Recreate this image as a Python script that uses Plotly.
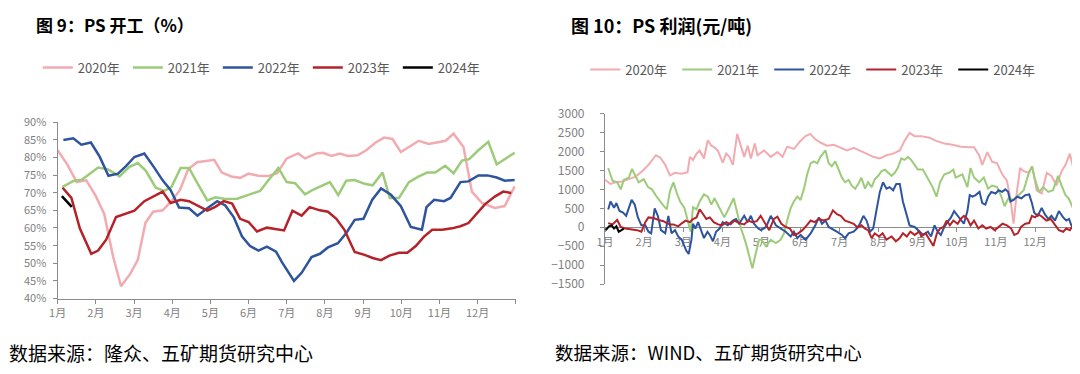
import plotly.graph_objects as go

# ---------------- data ----------------
months = ["1月", "2月", "3月", "4月", "5月", "6月", "7月", "8月", "9月", "10月", "11月", "12月", ""]
month_pos = list(range(13))
years = ["2020年", "2021年", "2022年", "2023年", "2024年"]
colors = ["#F2ABB0", "#9CCB7A", "#2E549E", "#B5232A", "#000000"]

# PS operating rate (%), x in months since Jan 1
rate_x_2020 = [0.00,0.25,0.50,0.75,1.00,1.22,1.45,1.66,1.90,2.10,2.30,2.50,2.75,2.98,3.20,3.42,3.65,3.88,4.10,4.30,
               4.55,4.78,5.00,5.25,5.50,5.75,6.00,6.30,6.48,6.78,6.95,7.17,7.39,7.60,7.86,8.08,8.34,8.55,8.77,8.99,
               9.25,9.46,9.72,9.98,10.16,10.37,10.63,10.85,11.11,11.45,11.71,11.97]
rate_y_2020 = [82,78,73,73.5,69,64,52,43.5,47,51,61.5,64.6,65,67.6,70.7,76.6,78.6,79,79.3,75.7,
               74.6,74.2,75.4,74.8,74.7,75.5,79.7,81.1,79.7,81.1,81.3,80.4,81.1,80.4,80.6,82,84.3,85.6,85.2,81.5,
               83.3,84.7,83.8,84.3,84.7,86.7,82.9,70.3,67.1,65.7,66.2,71.8]
rate_x_2021 = [0.12,0.41,0.64,1.06,1.32,1.62,1.88,2.10,2.31,2.57,2.79,2.98,3.22,3.44,3.67,3.92,4.13,4.39,4.70,5.00,
               5.30,5.52,5.78,6.00,6.22,6.48,6.70,7.13,7.35,7.56,7.78,8.04,8.25,8.51,8.70,8.94,9.20,9.46,9.68,9.89,
               10.15,10.37,10.59,10.78,11.02,11.28,11.50,11.97]
rate_y_2021 = [71.6,73.3,73.7,77.1,76.6,74.6,77.3,78.4,76.2,71.4,70.5,71.6,77.0,77.0,72.5,67.8,68.7,68.2,68.3,69.4,
               70.5,73.5,77.0,73.0,72.7,69.5,70.9,73.0,69.3,73.4,73.6,72.5,72.1,75.7,68.5,68.5,73.0,74.6,75.7,75.7,
               77.6,75.5,79.1,79.5,82.0,84.4,78.0,81.3]
rate_x_2022 = [0.15,0.41,0.62,0.87,1.10,1.33,1.58,1.79,2.01,2.27,2.53,2.75,2.96,3.18,3.44,3.66,3.92,4.18,4.39,4.61,
               4.83,5.04,5.26,5.48,5.72,5.87,6.19,6.39,6.65,6.87,7.08,7.34,7.56,7.78,8.01,8.24,8.47,8.73,8.99,9.25,
               9.54,9.66,9.86,10.12,10.29,10.55,10.76,11.02,11.26,11.50,11.71,11.97]
rate_y_2022 = [84.9,85.4,83.6,84.2,80.2,74.8,75.4,77.5,80.1,81.1,77.1,73.5,70.7,65.8,65.6,63.5,65.6,67.6,66.4,63.1,
               57.6,54.9,53.6,54.7,53.3,50.4,45.0,47.3,51.8,52.7,54.5,55.7,58.6,62.3,62.6,68.0,71.2,69.4,66.2,60.3,
               59.5,65.9,68.0,67.6,68.5,73.0,73.2,74.9,74.9,74.3,73.4,73.6]
rate_x_2023 = [0.13,0.36,0.58,0.88,1.06,1.27,1.53,1.75,2.01,2.27,2.53,2.75,2.96,3.22,3.44,3.70,3.92,4.13,4.35,4.57,
               4.78,5.00,5.22,5.48,5.72,5.93,6.15,6.39,6.60,6.87,7.08,7.30,7.51,7.78,8.04,8.25,8.47,8.69,8.94,9.16,
               9.38,9.59,9.81,10.07,10.33,10.55,10.76,10.98,11.19,11.45,11.67,11.88]
rate_y_2023 = [71.4,68.5,59.9,52.7,53.6,56.7,63.1,64.0,64.9,67.6,69.1,70.3,67.1,68.0,67.6,66.2,64.9,66.0,67.6,66.9,
               62.6,61.7,59.0,60.1,59.6,59.3,64.9,63.5,65.9,65.0,64.6,62.6,59.5,53.2,52.4,51.5,50.9,52.2,53.0,53.0,
               54.9,57.5,59.5,59.5,59.9,60.5,61.4,64.0,66.7,68.9,70.3,69.9]
rate_x_2024 = [0.11,0.24,0.37]
rate_y_2024 = [69.0,67.5,66.0]

# PS profit (yuan/ton)
profit_x_2020 = [0,0.14,0.27,0.44,0.61,0.78,0.95,1.11,1.30,1.41,1.54,1.66,1.79,1.96,2.11,2.17,2.25,2.34,2.42,2.53,
                 2.63,2.72,2.80,2.89,3.01,3.10,3.18,3.27,3.38,3.48,3.56,3.65,3.73,3.83,3.90,4.07,4.24,4.41,4.54,4.66,
                 4.83,5.00,5.13,5.25,5.38,5.51,5.68,5.85,6.02,6.19,6.36,6.52,6.69,6.86,7.03,7.20,7.37,7.54,7.66,7.79,
                 7.92,8.09,8.30,8.47,8.68,8.89,9.10,9.31,9.44,9.57,9.65,9.78,9.90,10.03,10.16,10.28,10.37,10.45,10.54,10.62,
                 10.71,10.83,10.93,11.04,11.17,11.30,11.42,11.55,11.68,11.78,11.89,11.97]
profit_y_2020 = [1255,1145,1187,1212,1271,1339,1482,1650,1903,1844,1650,1372,1440,1415,1457,1861,1777,1945,2029,1819,
                 2299,2156,2113,2012,1709,1945,1861,1650,2467,2113,1861,2156,1819,2214,1903,2029,1861,1987,1861,2130,
                 2071,2282,2408,2467,2324,2240,2156,2181,2113,2029,2097,2029,1945,1861,1819,1903,1945,2029,2282,2492,
                 2408,2408,2366,2282,2214,2181,2130,2113,2113,1903,1650,1987,1735,1692,1398,1229,766,93,977,1566,
                 1482,1440,1608,977,893,1440,1356,1103,1482,1650,1945,1608]
profit_x_2021 = [0.08,0.19,0.31,0.40,0.48,0.61,0.69,0.78,0.86,0.99,1.10,1.20,1.32,1.49,1.58,1.66,1.75,1.83,1.92,2.03,
                 2.13,2.19,2.25,2.34,2.42,2.53,2.63,2.72,2.80,2.93,3.05,3.18,3.29,3.39,3.48,3.60,3.69,3.77,3.86,3.94,
                 4.00,4.12,4.24,4.37,4.49,4.58,4.66,4.75,4.83,4.92,5.00,5.09,5.17,5.26,5.34,5.43,5.51,5.64,5.72,5.80,
                 5.89,5.97,6.06,6.14,6.23,6.31,6.40,6.48,6.56,6.65,6.73,6.82,6.90,6.99,7.07,7.16,7.24,7.33,7.41,7.49,
                 7.58,7.66,7.75,7.83,7.92,8.00,8.13,8.26,8.38,8.48,8.57,8.68,8.80,8.91,8.97,9.14,9.27,9.35,9.44,9.57,
                 9.69,9.80,9.90,10.03,10.14,10.22,10.32,10.45,10.58,10.71,10.83,10.92,11.00,11.10,11.21,11.34,11.46,11.59,11.68,11.78,
                 11.86,11.97]
profit_y_2021 = [1566,1229,1187,1002,1255,1314,1541,1356,1187,1271,1061,1002,808,581,472,951,1187,918,682,514,
                 135,-118,530,472,682,867,808,598,766,514,261,530,766,345,-34,-413,-749,-1086,-665,-328,
                 -330,-500,-330,-415,-330,-160,180,510,680,810,720,1020,1400,1690,1740,1690,1860,2030,1690,1610,
                 1740,1520,1310,1190,1250,1100,1020,1150,1310,1020,1190,1060,1270,1360,1480,1520,1440,1360,1440,1570,
                 1820,1780,1860,1780,1650,1524,1524,1271,1061,808,1187,1398,1440,1524,1314,1398,1061,1566,1314,1187,
                 1314,1019,1103,1061,808,556,766,724,850,977,1398,1608,1271,935,1061,935,977,1356,1103,850,
                 766,514]
profit_x_2022 = [0.08,0.14,0.23,0.29,0.37,0.46,0.54,0.61,0.68,0.76,0.84,0.93,1.03,1.11,1.18,1.27,1.35,1.43,1.54,1.62,
                 1.70,1.79,1.87,1.96,2.03,2.08,2.14,2.21,2.25,2.31,2.38,2.46,2.53,2.62,2.68,2.76,2.84,2.93,3.01,3.14,
                 3.27,3.35,3.43,3.56,3.65,3.73,3.81,3.92,3.99,4.12,4.24,4.37,4.49,4.62,4.75,4.83,4.92,5.00,5.13,5.26,
                 5.38,5.47,5.55,5.64,5.72,5.80,5.93,6.06,6.14,6.23,6.36,6.44,6.52,6.61,6.69,6.78,6.86,6.94,7.03,7.11,
                 7.20,7.28,7.37,7.45,7.54,7.62,7.71,7.79,7.92,8.04,8.14,8.26,8.34,8.43,8.51,8.59,8.68,8.76,8.85,8.93,
                 9.02,9.10,9.18,9.27,9.33,9.40,9.48,9.58,9.65,9.73,9.80,9.88,9.99,10.07,10.16,10.24,10.31,10.37,10.45,10.54,
                 10.65,10.75,10.85,10.92,10.98,11.07,11.17,11.25,11.34,11.42,11.51,11.61,11.72,11.80,11.87,11.93,11.97]
profit_y_2022 = [471,682,514,640,429,387,303,530,724,598,261,51,51,-118,-160,497,303,-76,-160,303,
                 -160,-76,-244,-328,-497,-623,-707,-328,93,-34,135,-76,-286,-118,-202,-370,-118,-34,135,51,
                 177,219,93,303,135,303,93,-34,-76,8,303,51,-34,-118,-244,-118,-286,-202,-328,-160,
                 51,261,93,177,8,-34,-118,-202,-286,-160,-118,-34,93,303,177,-118,-34,429,935,1187,
                 1019,1061,977,1145,1145,682,345,51,8,-118,-202,-118,-244,51,-118,-202,8,135,261,429,
                 303,177,93,429,850,808,850,935,640,598,808,935,893,977,935,1002,935,682,724,808,
                 766,850,867,640,387,303,514,345,219,303,177,429,261,177,219,51,8]
profit_x_2023 = [0.08,0.19,0.31,0.40,0.52,0.69,0.82,0.93,1.03,1.11,1.24,1.37,1.49,1.58,1.66,1.75,1.87,1.97,2.06,2.17,
                 2.25,2.34,2.42,2.51,2.59,2.68,2.78,2.89,2.99,3.10,3.21,3.31,3.43,3.56,3.66,3.77,3.88,3.98,4.09,4.20,
                 4.32,4.41,4.51,4.62,4.73,4.83,4.94,5.05,5.16,5.26,5.36,5.47,5.59,5.72,5.83,5.93,6.03,6.14,6.25,6.36,
                 6.46,6.56,6.65,6.73,6.82,6.90,7.01,7.10,7.20,7.33,7.44,7.54,7.62,7.72,7.81,7.92,8.04,8.09,8.20,8.30,
                 8.40,8.49,8.57,8.66,8.74,8.82,8.91,9.02,9.10,9.18,9.27,9.35,9.44,9.55,9.65,9.75,9.86,9.97,10.07,10.17,
                 10.28,10.39,10.47,10.56,10.64,10.75,10.85,10.92,11.00,11.08,11.18,11.29,11.40,11.51,11.61,11.72,11.80,11.89,11.97]
profit_y_2023 = [110,76,194,8,-34,-59,-76,-118,135,261,244,194,160,110,76,76,25,110,177,135,
                 219,261,472,345,219,261,135,76,51,135,76,177,110,76,177,135,160,303,110,-76,
                 219,278,93,8,-34,-202,-160,-76,51,177,135,219,177,219,446,345,303,177,135,93,
                 -8,51,-34,-76,-286,-160,-244,-160,-328,-244,-370,-286,-160,-244,-118,-202,-118,-244,-160,-328,
                 -497,-160,-34,8,177,51,177,93,219,303,219,51,177,-34,51,-34,8,-76,8,93,
                 51,-34,-202,-160,8,93,110,303,261,345,278,177,219,51,-76,-118,-34,-76,51]
profit_x_2024 = [0.02,0.10,0.17,0.23,0.29,0.35,0.42,0.48]
profit_y_2024 = [-76,25,51,-34,25,-118,-76,-34]

rate_x = [rate_x_2020, rate_x_2021, rate_x_2022, rate_x_2023, rate_x_2024]
rate_y = [rate_y_2020, rate_y_2021, rate_y_2022, rate_y_2023, rate_y_2024]
profit_x = [profit_x_2020, profit_x_2021, profit_x_2022, profit_x_2023, profit_x_2024]
profit_y = [profit_y_2020, profit_y_2021, profit_y_2022, profit_y_2023, profit_y_2024]

# ---------------- figure ----------------
W, H = 1080, 374
OFF = 8  # page body margin: figure is drawn 8px in from the top-left corner of the window


def px(x):
    return (x - OFF) / W


def py(y):
    return 1 - (y - OFF) / H


FONT = "Noto Sans CJK SC, Noto Sans, sans-serif"
AX = "#8C8C8C"
TXT = "#7F7F7F"

fig = go.Figure()
for i in range(5):
    fig.add_trace(go.Scatter(x=rate_x[i], y=rate_y[i], mode="lines", name=years[i],
                             line=dict(color=colors[i], width=2.5),
                             xaxis="x", yaxis="y", legend="legend"))
for i in range(5):
    fig.add_trace(go.Scatter(x=profit_x[i], y=profit_y[i], mode="lines", name=years[i],
                             line=dict(color=colors[i], width=2),
                             xaxis="x2", yaxis="y2", legend="legend2"))

left_ydom = [py(302), py(117)]
right_ydom = [py(286.7), py(108.3)]
zero_pos = right_ydom[0] + (right_ydom[1] - right_ydom[0]) * 1500 / 4500

common_axis = dict(showgrid=False, zeroline=False, showline=True, linecolor=AX, linewidth=1.3,
                   ticks="outside", ticklen=4, tickcolor=AX, tickwidth=1)

fig.update_layout(
    width=W, height=H, autosize=False,
    margin=dict(l=0, r=0, t=0, b=0),
    paper_bgcolor="white", plot_bgcolor="white",
    font=dict(family=FONT, color=TXT),
    xaxis=dict(domain=[px(49), px(511)], range=[0, 12], tickmode="array",
               tickvals=month_pos, ticktext=months, anchor="y",
               tickfont=dict(family=FONT, size=11, color=TXT), **common_axis),
    yaxis=dict(domain=left_ydom, range=[40, 90], dtick=5, tick0=40, ticksuffix="%",
               anchor="x", ticklabelstandoff=4,
               tickfont=dict(family=FONT, size=11, color=TXT), **common_axis),
    xaxis2=dict(domain=[px(601), px(1074)], range=[0, 12], tickmode="array",
                tickvals=month_pos, ticktext=months, anchor="free", position=zero_pos,
                layer="below traces",
                tickfont=dict(family=FONT, size=11, color=TXT), **common_axis),
    yaxis2=dict(domain=right_ydom, range=[-1500, 3000], dtick=500, tick0=-1500,
                anchor="x2", ticklabelstandoff=13,
                tickfont=dict(family=FONT, size=12, color=TXT), **common_axis),
    legend=dict(orientation="h", x=px(29), y=py(60), xanchor="left", yanchor="middle",
                entrywidth=45, entrywidthmode="pixels", itemwidth=30,
                font=dict(family=FONT, size=13, color="#595959"), bgcolor="rgba(0,0,0,0)"),
    legend2=dict(orientation="h", x=px(581), y=py(62), xanchor="left", yanchor="middle",
                 entrywidth=47, entrywidthmode="pixels", itemwidth=30,
                 font=dict(family=FONT, size=13, color="#595959"), bgcolor="rgba(0,0,0,0)"),
    annotations=[
        dict(text="<b>图 9：PS 开工（%）</b>", x=px(25), y=py(15), xref="paper", yref="paper",
             xanchor="left", yanchor="middle", showarrow=False,
             font=dict(family=FONT, size=17, color="#000000")),
        dict(text="<b>图 10：PS 利润(元/吨)</b>", x=px(565), y=py(15.5), xref="paper", yref="paper",
             xanchor="left", yanchor="middle", showarrow=False,
             font=dict(family=FONT, size=18, color="#000000")),
        dict(text="数据来源：隆众、五矿期货研究中心", x=px(-2), y=py(358), xref="paper", yref="paper",
             xanchor="left", yanchor="middle", showarrow=False,
             font=dict(family=FONT, size=19, color="#000000")),
        dict(text="数据来源：WIND、五矿期货研究中心", x=px(549), y=py(358), xref="paper", yref="paper",
             xanchor="left", yanchor="middle", showarrow=False,
             font=dict(family=FONT, size=18.5, color="#000000")),
    ],
)

fig.write_html("out.html")
